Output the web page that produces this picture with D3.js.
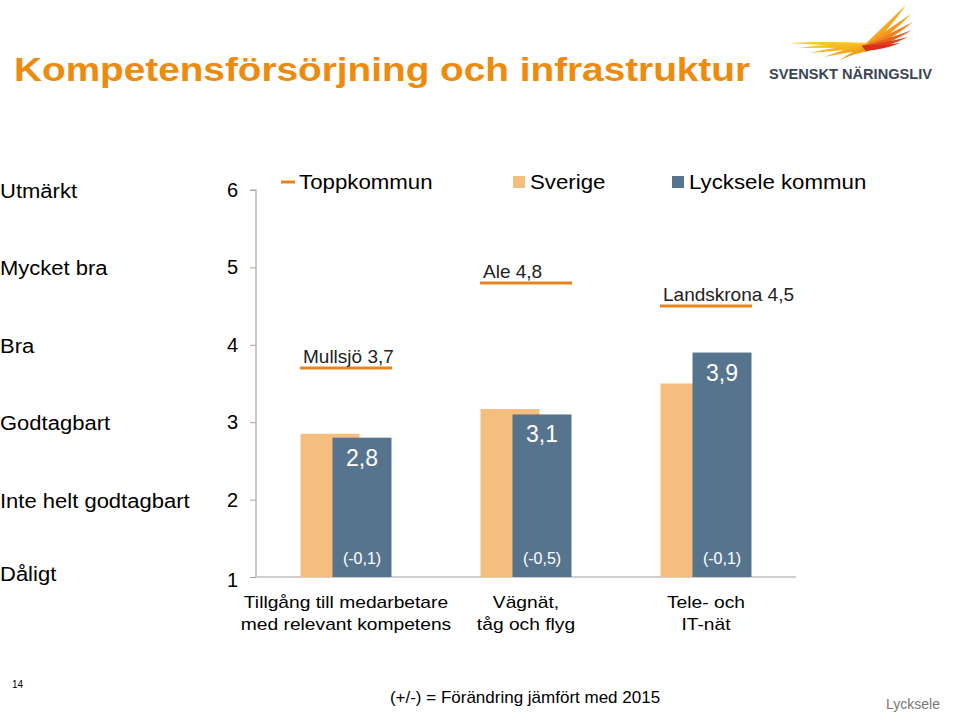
<!DOCTYPE html>
<html>
<head>
<meta charset="utf-8">
<script src="https://cdn.jsdelivr.net/npm/d3@7"></script>
<style>
  html, body { margin: 0; padding: 0; background: #fff; }
  svg { display: block; font-family: "Liberation Sans", Arial, sans-serif; }
</style>
</head>
<body>
<svg id="chart" width="960" height="712"></svg>
<script>
// ---- data ----
const categories = [
  ["Tillgång till medarbetare", "med relevant kompetens"],
  ["Vägnät,", "tåg och flyg"],
  ["Tele- och", "IT-nät"]
];
const sverigeValues = [2.85, 3.17, 3.5];
const lyckseleValues = [2.8, 3.1, 3.9];
const lyckseleLabels = ["2,8", "3,1", "3,9"];
const changeLabels = ["(-0,1)", "(-0,5)", "(-0,1)"];
const toppNames = ["Mullsjö", "Ale", "Landskrona"];
const toppValues = [3.7, 4.8, 4.5];
const toppLabels = ["3,7", "4,8", "4,5"];
const yTicks = [1, 2, 3, 4, 5, 6];
const yTickNames = ["Dåligt", "Inte helt godtagbart", "Godtagbart", "Bra", "Mycket bra", "Utmärkt"];
const seriesNames = ["Toppkommun", "Sverige", "Lycksele kommun"];

const colSverige = "#F6BE7E";
const colLycksele = "#57748F";
const colTopp = "#E8841E";
const colTitle = "#EE8A0C";

const svg = d3.select("#chart");

// widen text horizontally (reference glyphs are slightly wider than Liberation Sans)
function stretch(sel, f) {
  sel.each(function () {
    const w = this.getComputedTextLength();
    d3.select(this).attr("textLength", w * f).attr("lengthAdjust", "spacingAndGlyphs");
  });
}

// ---- scales ----
const idx = categories.map((d, i) => i);
const x = d3.scaleBand().domain(idx).range([256, 796]);
const y = d3.scaleLinear().domain([1, 6]).range([577, 190]);

// ---- title ----
svg.append("text")
  .attr("x", 14).attr("y", 81)
  .attr("font-size", 34).attr("font-weight", "bold")
  .attr("fill", colTitle)
  .attr("textLength", 736).attr("lengthAdjust", "spacingAndGlyphs")
  .text("Kompetensförsörjning och infrastruktur");

// ---- logo ----
const logo = svg.append("g");
const cx = 868, cy = 45;
const leftFeathers = [
  [788, 43, "#F9C623"], [798, 48, "#F7BE1F"], [810, 53, "#F5B51C"], [824, 57, "#F2AA1A"], [840, 60, "#EFA01A"]
];
leftFeathers.forEach(([fx, fy, c], i) => {
  logo.append("path")
    .attr("d", `M${cx},${cy - 2 + i * 0.8} Q${(cx + fx) / 2},${(cy + fy) / 2 - 3} ${fx},${fy} Q${(cx + fx) / 2},${(cy + fy) / 2 + 1} ${cx},${cy + 3 + i * 0.8} Z`)
    .attr("fill", c);
});
const rightFeathers = [
  [906, 5, "#F6A81E"], [911, 14, "#F39A1E"], [913, 22, "#EE8420"], [912, 30, "#E8621F"], [908, 37, "#E0401E"], [900, 43, "#D92E1E"]
];
rightFeathers.forEach(([fx, fy, c], i) => {
  logo.append("path")
    .attr("d", `M${cx - 6},${cy + 2 - i * 0.3} Q${(cx + fx) / 2 - 4},${(cy + fy) / 2 + 2} ${fx},${fy} Q${(cx + fx) / 2 + 2},${(cy + fy) / 2 + 5} ${cx - 2},${cy + 6}`)
    .attr("fill", c);
});
logo.append("text")
  .attr("x", 769).attr("y", 79)
  .attr("font-size", 15).attr("font-weight", "bold")
  .attr("fill", "#3A4556")
  .attr("textLength", 163).attr("lengthAdjust", "spacingAndGlyphs")
  .text("SVENSKT NÄRINGSLIV");

// ---- y axis ----
const axis = svg.append("g").attr("transform", "translate(256,0)")
  .call(d3.axisLeft(y).tickValues(yTicks).tickSize(6).tickFormat(""));
axis.select(".domain").attr("stroke", "#A6A6A6").attr("stroke-width", 1.2)
  .attr("d", `M-6,${y(6)}H0V${y(1)}`);
axis.selectAll(".tick line").attr("stroke", "#A6A6A6");

// baseline
svg.append("line")
  .attr("x1", 256).attr("x2", 796)
  .attr("y1", y(1)).attr("y2", y(1))
  .attr("stroke", "#BFBFBF").attr("stroke-width", 1.5);

// tick numbers
svg.selectAll(".ynum").data(yTicks).join("text")
  .attr("x", 238).attr("y", d => y(d) + 7 + (d === 1 ? 3 : 0))
  .attr("text-anchor", "end")
  .attr("font-size", 20).attr("fill", "#000")
  .text(d => d);

// tick names
const yn = svg.selectAll(".yname").data(yTicks).join("text")
  .attr("x", 0).attr("y", d => y(d) + 8 + (d === 1 ? -4 : 0))
  .attr("font-size", 20).attr("fill", "#000")
  .text((d, i) => yTickNames[i]);
stretch(yn, 1.1);

// ---- bars ----
const bw = 59, off = 32;
svg.selectAll(".bs").data(idx).join("rect")
  .attr("x", i => x(i) + x.bandwidth() / 2 - 45.5)
  .attr("y", i => y(sverigeValues[i]))
  .attr("width", bw)
  .attr("height", i => y(1) - y(sverigeValues[i]))
  .attr("fill", colSverige);

svg.selectAll(".bl").data(idx).join("rect")
  .attr("x", i => x(i) + x.bandwidth() / 2 - 45.5 + off)
  .attr("y", i => y(lyckseleValues[i]))
  .attr("width", bw)
  .attr("height", i => y(1) - y(lyckseleValues[i]))
  .attr("fill", colLycksele);

// value labels
svg.selectAll(".vl").data(idx).join("text")
  .attr("x", i => x(i) + x.bandwidth() / 2 + 16)
  .attr("y", i => y(lyckseleValues[i]) + 28)
  .attr("text-anchor", "middle")
  .attr("font-size", 23).attr("fill", "#fff")
  .text(i => lyckseleLabels[i]);

// change labels
svg.selectAll(".cl").data(idx).join("text")
  .attr("x", i => x(i) + x.bandwidth() / 2 + 16)
  .attr("y", y(1) - 13)
  .attr("text-anchor", "middle")
  .attr("font-size", 16).attr("fill", "#fff")
  .text(i => changeLabels[i]);

// ---- toppkommun lines ----
svg.selectAll(".tl").data(idx).join("line")
  .attr("x1", i => x(i) + x.bandwidth() / 2 - 46)
  .attr("x2", i => x(i) + x.bandwidth() / 2 + 46)
  .attr("y1", i => y(toppValues[i])).attr("y2", i => y(toppValues[i]))
  .attr("stroke", colTopp).attr("stroke-width", 3);

svg.selectAll(".tt").data(idx).join("text")
  .attr("x", i => x(i) + x.bandwidth() / 2 - 43)
  .attr("y", i => y(toppValues[i]) - 5)
  .attr("font-size", 19).attr("fill", "#222")
  .text(i => toppNames[i] + " " + toppLabels[i]);

// ---- category labels ----
const cat = svg.selectAll(".cat").data(idx).join("text")
  .attr("text-anchor", "middle")
  .attr("font-size", 17).attr("fill", "#000");
const catT = cat.selectAll("tspan").data(i => categories[i].map(t => ({ t, i }))).join("tspan")
  .attr("x", d => x(d.i) + x.bandwidth() / 2)
  .attr("y", (d, j) => 608 + j * 22)
  .text(d => d.t);
stretch(catT, 1.13);

// ---- legend ----
const lg = svg.append("g");
lg.append("line").attr("x1", 281).attr("x2", 295).attr("y1", 182).attr("y2", 182)
  .attr("stroke", colTopp).attr("stroke-width", 3);
lg.append("rect").attr("x", 513).attr("y", 176).attr("width", 12).attr("height", 12).attr("fill", colSverige);
lg.append("rect").attr("x", 672).attr("y", 176).attr("width", 12).attr("height", 12).attr("fill", colLycksele);
const lgt = lg.selectAll(".lt").data(seriesNames).join("text")
  .attr("x", (d, i) => [299, 530, 689][i]).attr("y", 189)
  .attr("font-size", 21).text(d => d);
stretch(lgt, 1.06);

// ---- footer ----
svg.append("text").attr("x", 12).attr("y", 688).attr("font-size", 10).text("14");
svg.append("text").attr("x", 525).attr("y", 703).attr("text-anchor", "middle")
  .attr("font-size", 17).text("(+/-) = Förändring jämfört med 2015");
svg.append("text").attr("x", 940).attr("y", 709).attr("text-anchor", "end")
  .attr("font-size", 14).attr("fill", "#777").text("Lycksele");
</script>
</body>
</html>
